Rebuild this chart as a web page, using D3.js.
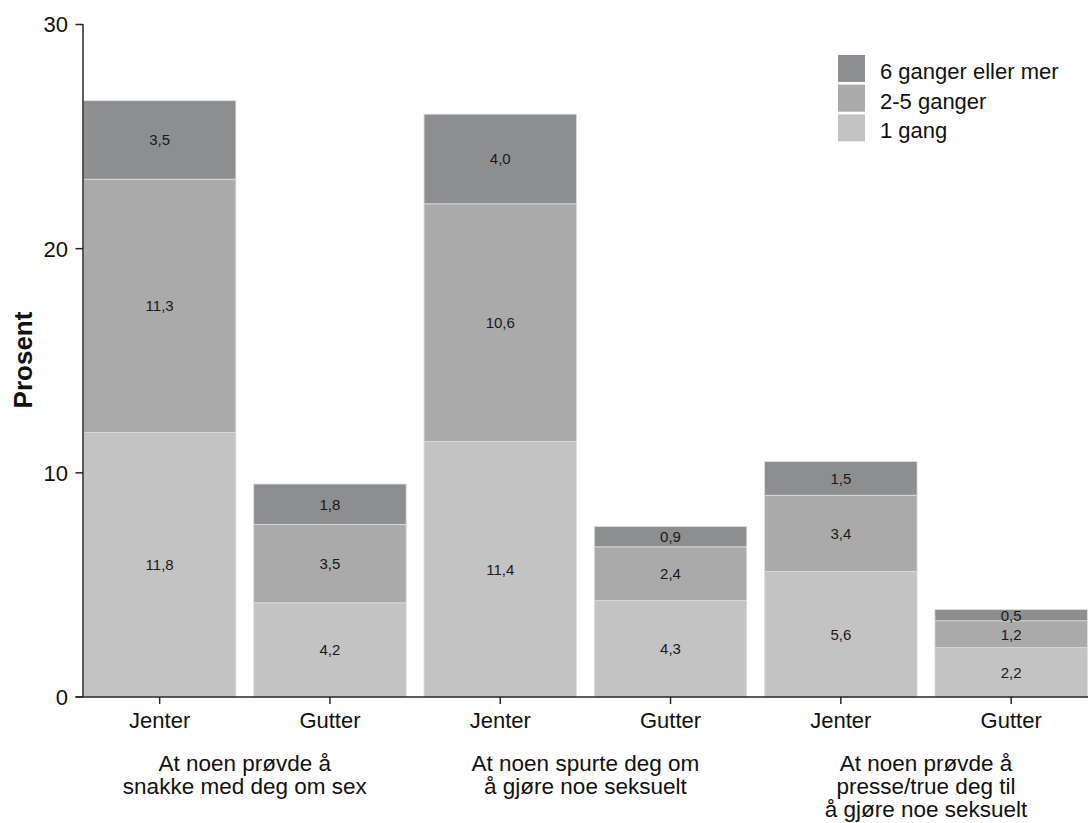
<!DOCTYPE html>
<html>
<head>
<meta charset="utf-8">
<script src="https://cdn.jsdelivr.net/npm/d3@7"></script>
<style>
    body { margin: 0; background: white; }
    svg { display: block; font-family: Arial, 'Liberation Sans', sans-serif; }
</style>
</head>
<body>
<svg id="chart" width="1088" height="823"></svg>
<script>
// data
const bars = ['j1', 'g1', 'j2', 'g2', 'j3', 'g3']
const barLabels = ['Jenter', 'Gutter', 'Jenter', 'Gutter', 'Jenter', 'Gutter']
const groupLabels = [
    ['At noen prøvde å', 'snakke med deg om sex'],
    ['At noen spurte deg om', 'å gjøre noe seksuelt'],
    ['At noen prøvde å', 'presse/true deg til', 'å gjøre noe seksuelt']
]
const seriesNames = ['1 gang', '2-5 ganger', '6 ganger eller mer']
const once = [11.8, 4.2, 11.4, 4.3, 5.6, 2.2]
const twoToFive = [11.3, 3.5, 10.6, 2.4, 3.4, 1.2]
const sixOrMore = [3.5, 1.8, 4.0, 0.9, 1.5, 0.5]
const yTicks = [0, 10, 20, 30]

const colors = ['#c2c3c2', '#a9aaa9', '#8d8e8f']
const axisColor = '#262626'

let svg = d3.select('#chart')

let rows = bars.map((b, i) => ({
    bar: b,
    '1 gang': once[i],
    '2-5 ganger': twoToFive[i],
    '6 ganger eller mer': sixOrMore[i]
}))
let stacked = d3.stack().keys(seriesNames)(rows)

let x = d3.scaleBand()
    .domain(bars)
    .range([74.5, 1096.3])
    .paddingInner(0.105)
    .paddingOuter(0.0525)
let y = d3.scaleLinear()
    .domain([0, 30])
    .range([697, 24.5])

let fmt = v => d3.format('.1f')(v).replace('.', ',')

// bars
let layer = svg.append('g').attr('id', 'bars').selectAll('g')
    .data(stacked)
    .enter()
    .append('g')
    .attr('fill', (d, i) => colors[i])

layer.selectAll('rect')
    .data(d => d)
    .enter()
    .append('rect')
    .attr('x', d => x(d.data.bar))
    .attr('y', d => y(d[1]))
    .attr('width', x.bandwidth())
    .attr('height', d => y(d[0]) - y(d[1]))
    .attr('stroke', '#dcdcdc')
    .attr('stroke-width', 0.8)

layer.selectAll('text')
    .data(d => d)
    .enter()
    .append('text')
    .text(d => fmt(d[1] - d[0]))
    .attr('x', d => x(d.data.bar) + x.bandwidth() / 2)
    .attr('y', d => (y(d[0]) + y(d[1])) / 2)
    .attr('dy', '0.36em')
    .attr('font-size', '15px')
    .attr('fill', '#1a1a1a')
    .style('text-anchor', 'middle')

// y axis
let yAxis = svg.append('g').attr('id', 'yAxis')
yAxis.append('line')
    .attr('x1', 83).attr('x2', 83)
    .attr('y1', y(30) - 0.5).attr('y2', y(0))
    .attr('stroke', axisColor)
    .attr('stroke-width', 1.5)
yAxis.selectAll('g')
    .data(yTicks)
    .enter()
    .append('g')
    .attr('transform', d => 'translate(0,' + y(d) + ')')
    .each(function (d) {
        let g = d3.select(this)
        g.append('line')
            .attr('x1', 75.5).attr('x2', 83)
            .attr('stroke', axisColor)
            .attr('stroke-width', 1.5)
        g.append('text')
            .text(d)
            .attr('x', 68)
            .attr('dy', '0.36em')
            .attr('font-size', '22px')
            .attr('fill', '#111')
            .style('text-anchor', 'end')
    })

svg.append('text')
    .text('Prosent')
    .attr('transform', 'translate(32,360) rotate(-90)')
    .attr('font-size', '26px')
    .attr('font-weight', 'bold')
    .attr('fill', '#111')
    .style('text-anchor', 'middle')

// x axis
let xAxis = svg.append('g').attr('id', 'xAxis')
xAxis.append('line')
    .attr('x1', 75.5).attr('x2', 1088)
    .attr('y1', y(0)).attr('y2', y(0))
    .attr('stroke', axisColor)
    .attr('stroke-width', 1.5)
let xTick = xAxis.selectAll('g')
    .data(bars)
    .enter()
    .append('g')
    .attr('transform', d => 'translate(' + (x(d) + x.bandwidth() / 2) + ',' + y(0) + ')')
xTick.append('line')
    .attr('y1', 0).attr('y2', 7)
    .attr('stroke', axisColor)
    .attr('stroke-width', 1.5)
xTick.append('text')
    .text((d, i) => barLabels[i])
    .attr('y', 31)
    .attr('font-size', '22px')
    .attr('fill', '#111')
    .style('text-anchor', 'middle')

// group labels, centred under each pair of bars
let groupText = svg.append('g').attr('id', 'groups').selectAll('text')
    .data(groupLabels)
    .enter()
    .append('text')
    .attr('x', (d, i) => (x(bars[i * 2]) + x(bars[i * 2 + 1]) + x.bandwidth()) / 2)
    .attr('y', 771)
    .attr('font-size', '22.5px')
    .attr('fill', '#111')
    .style('text-anchor', 'middle')
groupText.selectAll('tspan')
    .data(d => d)
    .enter()
    .append('tspan')
    .text(d => d)
    .attr('x', function () { return this.parentNode.getAttribute('x') })
    .attr('dy', (d, i) => i === 0 ? 0 : 23)

// legend, darkest on top
let legend = svg.append('g').attr('id', 'legend').selectAll('g')
    .data(seriesNames.slice().reverse())
    .enter()
    .append('g')
    .attr('transform', (d, i) => 'translate(838,' + (55 + i * 29.7) + ')')
legend.append('rect')
    .attr('width', 27)
    .attr('height', 27)
    .attr('fill', d => colors[seriesNames.indexOf(d)])
legend.append('text')
    .text(d => d)
    .attr('x', 42)
    .attr('y', 24)
    .attr('font-size', '22px')
    .attr('fill', '#111')
</script>
</body>
</html>
